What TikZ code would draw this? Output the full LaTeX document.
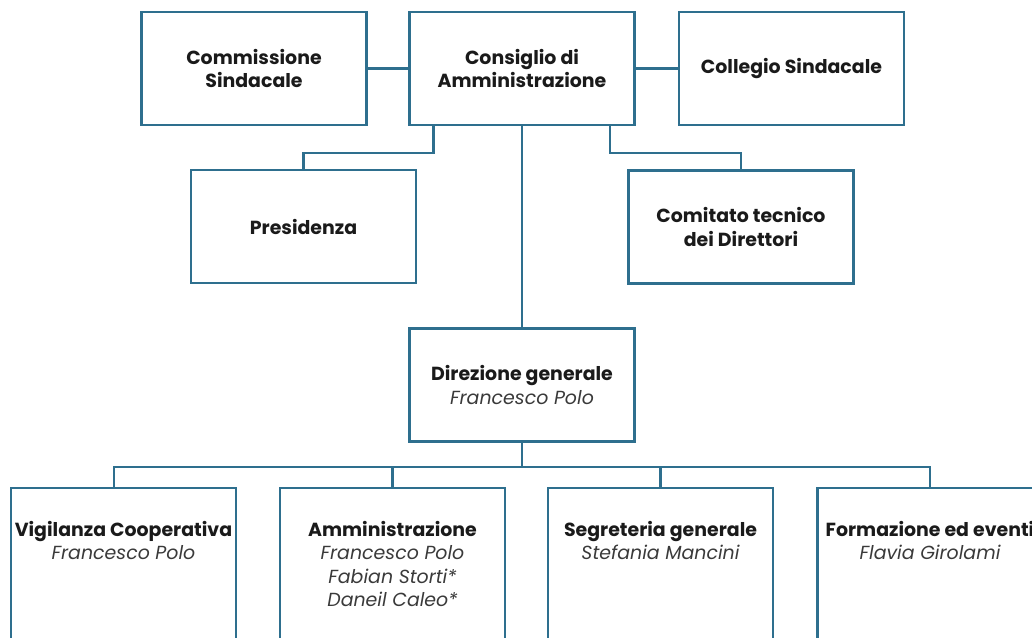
\documentclass[tikz,border=0pt]{standalone}
\usepackage{fontspec}
\setmainfont{Poppins}
\usetikzlibrary{calc}
\definecolor{edge}{HTML}{2E6F8E}
\definecolor{ink}{HTML}{1A1A1A}
\definecolor{name}{HTML}{3A3A3A}
\tikzset{
  box/.style={draw=edge, line width=1.8pt, fill=white, rectangle, minimum width=168.75pt, minimum height=84.75pt, inner sep=0pt, align=center, text=ink, font=\fontsize{14.2pt}{17.6pt}\selectfont\bfseries},
  lowbox/.style={box, minimum height=150pt},
  conn/.style={draw=edge, line width=1.8pt},
  lowtext/.style={anchor=north, align=center, text=ink, inner sep=0pt, font=\fontsize{14.2pt}{17.6pt}\selectfont},
}
\begin{document}
\begin{tikzpicture}[x=0.75pt, y=-0.75pt]
\useasboundingbox (0,0) rectangle (1032,638);
\clip (0,0) rectangle (1032,638);
\fill[white] (0,0) rectangle (1032,638);
\node[box] (comm) at (254,68.5) {Commissione\\Sindacale};
\node[box] (cons) at (522,68.5) {Consiglio di\\Amministrazione};
\node[box] (coll) at (791.5,68.5) {Collegio Sindacale};
\node[box] (pres) at (303.5,226.5) {Presidenza};
\node[box] (comi) at (741,227) {Comitato tecnico\\dei Direttori};
\node[box] (dir) at (522,385) {Direzione generale\\{\color{name}\mdseries\itshape Francesco Polo}};
\node[lowbox] (b1) at (123.5,588) {};
\node[lowbox] (b2) at (392.5,588) {};
\node[lowbox] (b3) at (660.5,588) {};
\node[lowbox] (b4) at (930,588) {};
\node[lowtext] (t1) at (123.5,521) {\textbf{Vigilanza Cooperativa}\\{\itshape\color{name}Francesco Polo}};
\node[lowtext] (t2) at (392.5,521) {\textbf{Amministrazione}\\{\itshape\color{name}Francesco Polo}\\{\itshape\color{name}Fabian Storti*}\\{\itshape\color{name}Daneil Caleo*}};
\node[lowtext] (t3) at (660.5,521) {\textbf{Segreteria generale}\\{\itshape\color{name}Stefania Mancini}};
\node[lowtext] (t4) at (930,521) {\textbf{Formazione ed eventi}\\{\itshape\color{name}Flavia Girolami}};
\draw[conn] (comm.east) -- (cons.west);
\draw[conn] (cons.east) -- (coll.west);
\draw[conn] ($(cons.south west)+(25,0)$) -- ++(0,27) -| (pres.north);
\draw[conn] ($(cons.south east)+(-26,0)$) -- ++(0,27) -| (comi.north);
\draw[conn] (cons.south) -- (dir.north);
\draw[conn] (dir.south) -- ++(0,24) coordinate (bus);
\draw[conn] ($(b1.north)+(-9.5,0)$) |- (bus) -| (b4.north);
\draw[conn] (bus -| b2.north) -- (b2.north);
\draw[conn] (bus -| b3.north) -- (b3.north);
\end{tikzpicture}
\end{document}
